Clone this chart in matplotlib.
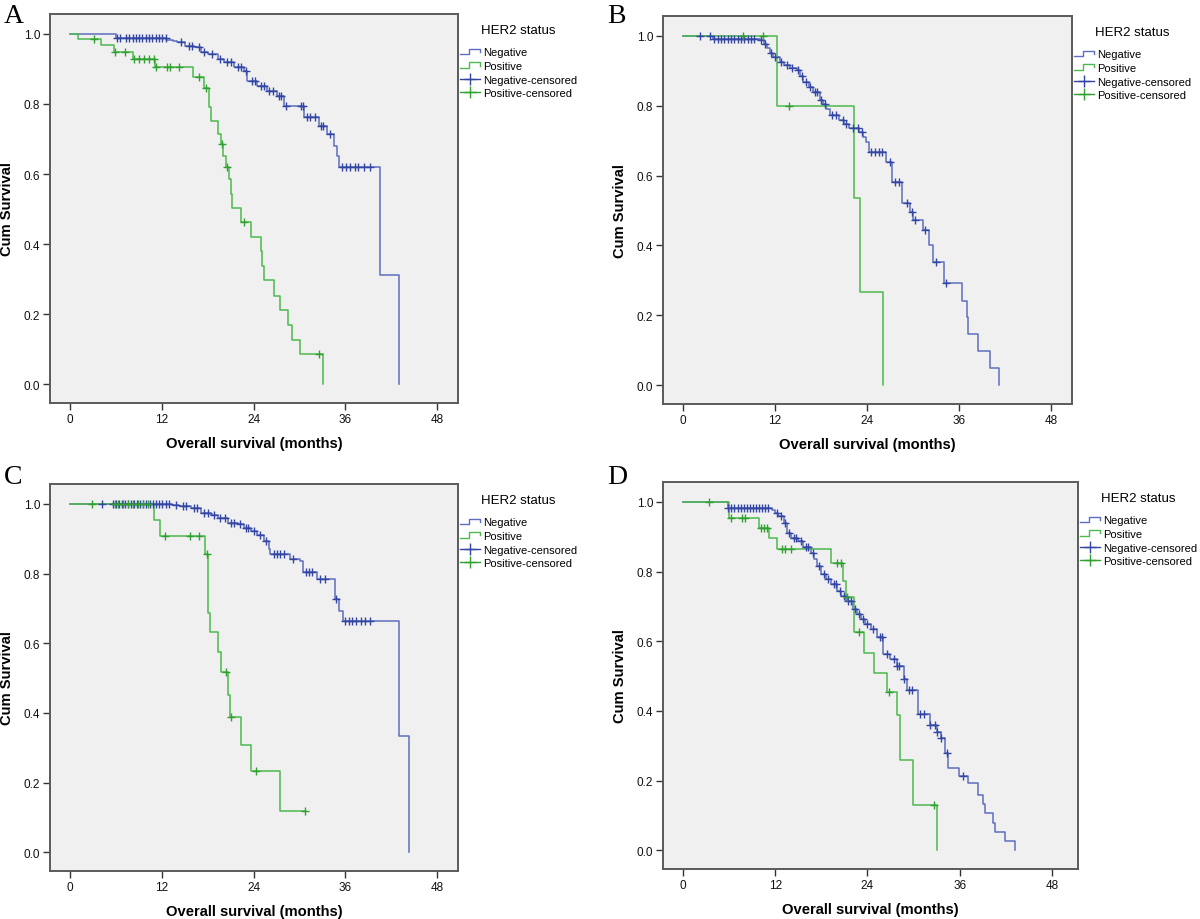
import numpy as np
import matplotlib
matplotlib.use('Agg')
import matplotlib.pyplot as plt
from matplotlib.lines import Line2D
from matplotlib.legend_handler import HandlerBase

plt.rcParams['font.family'] = ['Liberation Sans', 'DejaVu Sans']

# ---- data: event times (months), survival after each event, censored times ----
# Panel A
A_neg_t = [6.0, 12.6, 13.5, 14.0, 15.1, 16.2, 17.1, 18.0, 19.3, 20.1, 21.4, 22.7, 23.2,
           24.5, 25.8, 27.1, 28.0, 30.6, 32.5, 33.6, 34.5, 34.9, 35.1, 40.5, 43.0]
A_neg_s = [0.989, 0.984, 0.980, 0.976, 0.967, 0.962, 0.948, 0.943, 0.929, 0.919, 0.905, 0.895, 0.867,
           0.852, 0.838, 0.824, 0.795, 0.762, 0.738, 0.714, 0.681, 0.652, 0.619, 0.311, 0.0]
A_neg_c = [6.1, 6.6, 7.3, 7.7, 8.2, 8.6, 9.0, 9.4, 9.9, 10.3, 10.7, 11.2, 11.6, 12.0, 12.5,
           14.5, 15.5, 16.0, 16.8, 17.5, 18.5, 19.6, 20.5, 21.0, 22.0, 22.4, 23.0, 23.8, 24.2,
           25.0, 25.4, 26.0, 26.5, 27.3, 27.6, 28.2, 30.2, 30.5, 31.0, 31.4, 32.0, 32.8, 33.0,
           34.0, 35.6, 36.1, 36.6, 37.2, 37.7, 38.4, 39.2]
A_pos_t = [1.1, 4.0, 5.7, 8.2, 11.1, 16.1, 17.5, 18.2, 18.4, 19.3, 19.7, 20.0, 20.4, 20.8, 21.0,
           21.2, 22.4, 23.6, 24.9, 25.1, 25.4, 26.7, 27.4, 28.5, 29.0, 30.0, 33.1]
A_pos_s = [0.986, 0.969, 0.949, 0.929, 0.907, 0.876, 0.845, 0.79, 0.75, 0.714, 0.686, 0.652, 0.62,
           0.586, 0.543, 0.502, 0.464, 0.421, 0.381, 0.338, 0.297, 0.252, 0.211, 0.169, 0.127,
           0.086, 0.0]
A_pos_c = [3.1, 5.9, 7.2, 8.4, 9.0, 9.7, 10.3, 11.0, 11.2, 12.7, 13.1, 14.2, 16.8, 17.8, 19.9,
           20.5, 22.7, 32.6]

# Panel B
B_neg_t = [3.9, 10.0, 10.5, 10.9, 11.3, 11.7, 12.6, 13.2, 13.9, 14.8, 15.3, 15.7, 16.4, 17.0,
           17.8, 18.3, 18.7, 19.1, 20.4, 21.0, 21.7, 23.0, 23.5, 23.9, 24.2, 26.5, 27.2, 28.6,
           29.6, 30.0, 31.3, 32.0, 32.6, 34.0, 36.3, 37.0, 37.2, 38.5, 40.0, 41.2]
B_neg_s = [0.992, 0.988, 0.976, 0.964, 0.952, 0.940, 0.926, 0.916, 0.907, 0.902, 0.885, 0.869,
           0.855, 0.840, 0.816, 0.804, 0.792, 0.773, 0.759, 0.747, 0.735, 0.726, 0.711, 0.697,
           0.669, 0.640, 0.583, 0.521, 0.497, 0.473, 0.445, 0.402, 0.354, 0.292, 0.241, 0.195,
           0.146, 0.097, 0.049, 0.0]
B_neg_c = [2.2, 3.5, 4.1, 4.6, 5.0, 5.4, 5.9, 6.3, 6.7, 7.2, 7.6, 8.0, 8.5, 8.9, 9.3,
           10.2, 10.7, 11.5, 12.0, 12.8, 13.5, 14.2, 15.0, 15.5, 16.0, 16.6, 17.2, 17.5, 18.0,
           18.5, 19.4, 20.0, 20.8, 21.3, 22.2, 22.8, 23.3, 24.5, 25.0, 25.5, 26.0, 27.0, 27.6,
           28.2, 29.2, 29.8, 30.3, 31.5, 33.0, 34.3]
B_pos_t = [12.3, 22.3, 23.1, 26.1]
B_pos_s = [0.80, 0.535, 0.268, 0.0]
B_pos_c = [7.8, 10.4, 13.8]

# Panel C
C_neg_t = [13.3, 14.3, 15.8, 17.1, 18.4, 19.3, 20.6, 21.9, 22.8, 23.6, 24.5, 25.3, 26.0, 26.2,
           28.8, 30.1, 30.5, 32.3, 34.6, 35.1, 35.7, 43.0, 44.3]
C_neg_s = [0.997, 0.993, 0.988, 0.974, 0.969, 0.960, 0.946, 0.941, 0.931, 0.922, 0.912, 0.893,
           0.869, 0.855, 0.843, 0.836, 0.803, 0.784, 0.727, 0.693, 0.663, 0.334, 0.0]
C_neg_c = [4.2, 5.6, 6.0, 6.4, 6.8, 7.2, 7.6, 8.0, 8.4, 8.8, 9.2, 9.6, 10.0, 10.4, 10.8, 11.2,
           11.6, 12.0, 12.5, 13.0, 13.8, 14.8, 15.2, 16.2, 16.6, 17.5, 18.0, 18.8, 19.6, 20.2,
           21.0, 21.5, 22.2, 23.0, 23.3, 24.0, 24.8, 25.6, 26.6, 27.0, 27.4, 28.0, 29.2, 30.8,
           31.2, 31.6, 32.7, 33.3, 34.8, 36.0, 36.4, 36.8, 37.4, 38.0, 38.6, 39.2]
C_pos_t = [11.0, 11.8, 17.7, 18.0, 18.1, 18.3, 19.4, 19.7, 20.6, 20.9, 22.4, 23.6, 27.4]
C_pos_s = [0.955, 0.909, 0.855, 0.798, 0.687, 0.631, 0.574, 0.517, 0.450, 0.387, 0.309, 0.234,
           0.119]
C_pos_c = [2.9, 5.9, 6.3, 7.0, 7.6, 8.3, 8.9, 9.6, 10.2, 12.4, 15.7, 16.9, 17.9, 20.4, 21.0,
           24.3, 30.7]

# Panel D
D_neg_t = [5.8, 11.6, 12.0, 12.4, 13.1, 13.5, 14.1, 15.0, 15.6, 16.7, 17.1, 17.4, 18.0, 18.6,
           19.3, 20.1, 20.6, 21.2, 22.1, 22.6, 23.1, 23.7, 24.4, 25.3, 26.0, 27.0, 27.9, 28.7,
           29.1, 30.6, 32.1, 33.0, 33.6, 34.1, 34.5, 35.9, 37.1, 38.4, 39.1, 39.3, 40.4, 40.6,
           41.9, 43.2]
D_neg_s = [0.983, 0.978, 0.969, 0.959, 0.940, 0.911, 0.897, 0.887, 0.869, 0.854, 0.835, 0.816,
           0.792, 0.778, 0.764, 0.745, 0.730, 0.716, 0.692, 0.678, 0.664, 0.650, 0.635, 0.612,
           0.564, 0.549, 0.530, 0.492, 0.459, 0.392, 0.359, 0.340, 0.321, 0.278, 0.237, 0.214,
           0.192, 0.159, 0.133, 0.107, 0.078, 0.052, 0.026, 0.0]
D_neg_c = [5.9, 6.3, 6.7, 7.1, 7.5, 7.9, 8.3, 8.7, 9.1, 9.5, 9.9, 10.3, 10.7, 11.1,
           12.2, 12.7, 13.3, 13.8, 14.4, 14.7, 15.3, 16.0, 16.3, 16.9, 17.7, 18.3, 18.9, 19.6,
           19.9, 20.4, 20.9, 21.5, 21.9, 22.4, 22.9, 23.4, 23.9, 24.7, 25.6, 25.9, 26.6, 27.5,
           27.9, 28.1, 28.7, 29.4, 29.8, 30.8, 31.3, 32.1, 32.8, 33.0, 33.6, 34.3, 36.4]
D_pos_t = [6.0, 9.9, 11.2, 12.2, 19.3, 20.8, 21.2, 22.3, 23.6, 24.9, 26.5, 27.9, 28.3, 29.9, 33.1]
D_pos_s = [0.954, 0.926, 0.895, 0.864, 0.824, 0.773, 0.727, 0.626, 0.567, 0.509, 0.454, 0.387,
           0.259, 0.130, 0.0]
D_pos_c = [3.4, 6.2, 7.7, 8.1, 10.2, 10.6, 10.9, 12.9, 13.3, 14.1, 20.1, 20.6, 21.3, 22.9, 26.8,
           32.6]

panel_letters = ['A', 'B', 'C', 'D']
x_ticks = [0, 12, 24, 36, 48]
y_ticks = [0.0, 0.2, 0.4, 0.6, 0.8, 1.0]
legend_labels = ['Negative', 'Positive', 'Negative-censored', 'Positive-censored']

NEG_LINE, NEG_MARK = '#5e6ebf', '#3346a4'
POS_LINE, POS_MARK = '#4cba4c', '#30a030'


class StepHandler(HandlerBase):
    def create_artists(self, legend, orig_handle, xdescent, ydescent, width, height,
                       fontsize, trans):
        xs = np.array([0, 0.45, 0.45, 1.0, 1.0]) * width - xdescent
        ys = np.array([0.15, 0.15, 0.85, 0.85, 0.45]) * height - ydescent
        ln = Line2D(xs, ys, color=orig_handle.get_color(), lw=1.0)
        ln.set_transform(trans)
        return [ln]


def km_curve(ax, t, s, cens, line_c, mark_c):
    t = np.asarray(t); s = np.asarray(s); cens = np.asarray(cens)
    end = max(t[-1], cens.max())
    ax.step(np.r_[0, t, end], np.r_[1.0, s, s[-1]], where='post',
            color=line_c, lw=1.1, zorder=3)
    idx = np.searchsorted(t, cens, side='right') - 1
    cy = np.where(idx >= 0, s[np.clip(idx, 0, None)], 1.0)
    ax.plot(cens, cy, ls='none', marker='+', ms=6, mew=1.0, color=mark_c, zorder=4)


panels = [
    (A_neg_t, A_neg_s, A_neg_c, A_pos_t, A_pos_s, A_pos_c),
    (B_neg_t, B_neg_s, B_neg_c, B_pos_t, B_pos_s, B_pos_c),
    (C_neg_t, C_neg_s, C_neg_c, C_pos_t, C_pos_s, C_pos_c),
    (D_neg_t, D_neg_s, D_neg_c, D_pos_t, D_pos_s, D_pos_c),
]
# pixel boxes of the plotting frames (left, top, right, bottom)
boxes = [(50, 15, 458, 404), (663, 17, 1072, 405), (50, 485, 458, 872), (663, 483, 1078, 870)]
letter_pos = [(4, 4), (607, 4), (4, 465), (607, 465)]

W, H = 1200, 920
fig = plt.figure(figsize=(W / 100, H / 100), dpi=100)

for i, (nt, ns, nc, pt, ps, pc) in enumerate(panels):
    l, t, r, b = boxes[i]
    ax = fig.add_axes([l / W, 1 - b / H, (r - l) / W, (b - t) / H])
    ax.set_facecolor('#f0f0f0')
    km_curve(ax, nt, ns, nc, NEG_LINE, NEG_MARK)
    km_curve(ax, pt, ps, pc, POS_LINE, POS_MARK)

    ax.set_xlim(-2.6, 50.7 if i != 3 else 51.4)
    ax.set_ylim(-0.054, 1.057)
    ax.set_xticks(x_ticks)
    ax.set_yticks(y_ticks)
    ax.set_yticklabels([f'{v:.1f}' for v in y_ticks])
    ax.tick_params(direction='out', length=5, width=1, color='#333333',
                   labelsize=8.5, labelcolor='#111111', pad=2)
    for sp in ax.spines.values():
        sp.set_color('#5a5a5a')
        sp.set_linewidth(1.4)
    ax.set_xlabel('Overall survival (months)', fontsize=10.6, fontweight='bold', labelpad=8)
    ax.set_ylabel('Cum Survival', fontsize=10.6, fontweight='bold', labelpad=7)

    handles = [Line2D([], [], color=NEG_LINE), Line2D([], [], color=POS_LINE),
               Line2D([], [], color=NEG_MARK, marker='+', ms=9, mew=1.0, lw=1.0),
               Line2D([], [], color=POS_MARK, marker='+', ms=9, mew=1.0, lw=1.0)]
    leg = ax.legend(handles, legend_labels, title='HER2 status', loc='upper left',
                    bbox_to_anchor=(1.0, 0.978), frameon=False, fontsize=8,
                    title_fontsize=9.5, labelspacing=0.33, handlelength=1.8,
                    handletextpad=0.3, borderaxespad=0.0, borderpad=0.15,
                    handler_map={handles[0]: StepHandler(), handles[1]: StepHandler()})
    leg._legend_box.sep = 8

    lx, ly = letter_pos[i]
    fig.text(lx / W, 1 - ly / H, panel_letters[i], ha='left', va='top', fontsize=20,
             family=['Liberation Serif', 'DejaVu Serif'])

fig.savefig('out.png', dpi=100, facecolor='white')
